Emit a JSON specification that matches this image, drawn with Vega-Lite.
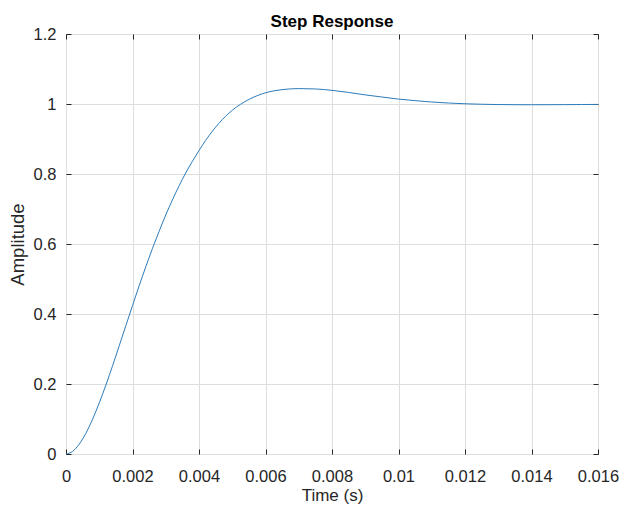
{
  "$schema": "https://vega.github.io/schema/vega-lite/v6.json",
  "width": 532,
  "height": 420,
  "autosize": "none",
  "padding": {"left": 66, "top": 34, "right": 24, "bottom": 51},
  "background": "white",
  "title": {"text": "Step Response", "fontSize": 17, "fontWeight": "bold", "font": "Liberation Sans", "color": "#000000", "offset": -5, "anchor": "middle"},
  "config": {
    "view": {"stroke": "#262626", "strokeWidth": 1},
    "axis": {
      "labelFont": "Liberation Sans", "titleFont": "Liberation Sans",
      "labelFontSize": 16.5,
      "labelColor": "#262626", "titleColor": "#262626", "titleFontWeight": "normal",
      "domain": false, "tickColor": "#262626", "tickSize": -5, "tickWidth": 1,
      "gridColor": "#dedede", "gridWidth": 1, "gridOpacity": 1,
      "labelFlush": false, "labelOverlap": false, "labelBound": false
    }
  },
  "data": {"values": [
    {"t": 0, "y": 0},
    {"t": 0.0002, "y": 0.0075},
    {"t": 0.0004, "y": 0.0285},
    {"t": 0.0006, "y": 0.0595},
    {"t": 0.0008, "y": 0.0995},
    {"t": 0.001, "y": 0.146},
    {"t": 0.0012, "y": 0.197},
    {"t": 0.0014, "y": 0.252},
    {"t": 0.0016, "y": 0.309},
    {"t": 0.0018, "y": 0.3665},
    {"t": 0.002, "y": 0.424},
    {"t": 0.0022, "y": 0.4805},
    {"t": 0.0024, "y": 0.535},
    {"t": 0.0026, "y": 0.587},
    {"t": 0.0028, "y": 0.636},
    {"t": 0.003, "y": 0.683},
    {"t": 0.0032, "y": 0.726},
    {"t": 0.0034, "y": 0.766},
    {"t": 0.0036, "y": 0.803},
    {"t": 0.0038, "y": 0.836},
    {"t": 0.004, "y": 0.867},
    {"t": 0.0042, "y": 0.896},
    {"t": 0.0044, "y": 0.922},
    {"t": 0.0046, "y": 0.945},
    {"t": 0.0048, "y": 0.965},
    {"t": 0.005, "y": 0.982},
    {"t": 0.0055, "y": 1.013},
    {"t": 0.006, "y": 1.032},
    {"t": 0.0065, "y": 1.041},
    {"t": 0.007, "y": 1.044},
    {"t": 0.0075, "y": 1.043},
    {"t": 0.008, "y": 1.039},
    {"t": 0.0085, "y": 1.033},
    {"t": 0.009, "y": 1.026},
    {"t": 0.0095, "y": 1.020},
    {"t": 0.01, "y": 1.014},
    {"t": 0.0105, "y": 1.0096},
    {"t": 0.011, "y": 1.0057},
    {"t": 0.0115, "y": 1.0028},
    {"t": 0.012, "y": 1.0007},
    {"t": 0.0125, "y": 0.9993},
    {"t": 0.013, "y": 0.9984},
    {"t": 0.0135, "y": 0.998},
    {"t": 0.014, "y": 0.9979},
    {"t": 0.0145, "y": 0.998},
    {"t": 0.015, "y": 0.9982},
    {"t": 0.0155, "y": 0.9985},
    {"t": 0.016, "y": 0.9988}
  ]},
  "layer": [
    {
      "mark": {"type": "line", "color": "#2b7bba", "strokeWidth": 1, "interpolate": "monotone", "clip": true},
      "encoding": {
        "x": {"field": "t", "type": "quantitative",
              "scale": {"domain": [0, 0.016], "nice": false, "zero": false},
              "axis": {"orient": "bottom", "title": "Time (s)", "titleFontSize": 17, "values": [0, 0.002, 0.004, 0.006, 0.008, 0.01, 0.012, 0.014, 0.016], "format": "~g", "labelPadding": 19, "titlePadding": 3, "grid": true}},
        "y": {"field": "y", "type": "quantitative",
              "scale": {"domain": [0, 1.2], "nice": false},
              "axis": {"orient": "left", "title": "Amplitude", "titleFontSize": 18.5, "values": [0, 0.2, 0.4, 0.6, 0.8, 1, 1.2], "format": "~g", "labelPadding": 15, "titlePadding": 6, "grid": true}}
      }
    },
    {
      "mark": {"type": "line", "opacity": 0},
      "encoding": {
        "x": {"field": "t", "type": "quantitative",
              "axis": {"orient": "top", "title": null, "labels": false, "grid": false, "values": [0, 0.002, 0.004, 0.006, 0.008, 0.01, 0.012, 0.014, 0.016]}},
        "y": {"field": "y", "type": "quantitative",
              "axis": {"orient": "right", "title": null, "labels": false, "grid": false, "values": [0, 0.2, 0.4, 0.6, 0.8, 1, 1.2]}}
      }
    }
  ],
  "resolve": {"axis": {"x": "independent", "y": "independent"}}
}
